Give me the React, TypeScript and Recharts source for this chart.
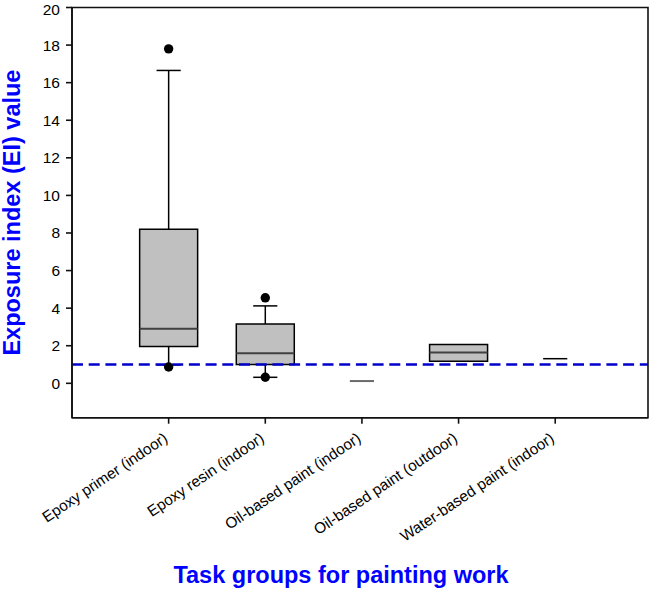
import { ComposedChart, XAxis, YAxis, Scatter, ReferenceArea, ReferenceLine } from 'recharts';

const categories = [
  'Epoxy primer (indoor)',
  'Epoxy resin (indoor)',
  'Oil-based paint (indoor)',
  'Oil-based paint (outdoor)',
  'Water-based paint (indoor)',
];
const groupPos = [1, 2, 3, 4, 5];
const lowerQuartile = [1.96, 1.0, null, 1.17, null];
const medians = [2.9, 1.6, 0.12, 1.64, null];
const upperQuartile = [8.2, 3.16, null, 2.06, null];
const lowerWhisker = [0.98, 0.32, null, null, null];
const upperWhisker = [16.65, 4.12, null, null, 1.31];
const outlierGroup = [1, 1, 2, 2];
const outlierValue = [17.8, 0.87, 4.55, 0.32];
const yTicks = [0, 2, 4, 6, 8, 10, 12, 14, 16, 18, 20];
const threshold = 1;

const outliers = outlierGroup.map((g, i) => ({ x: g, y: outlierValue[i] }));

const FONT = '"Liberation Sans", Arial, sans-serif';
const BLUE = '#0000ff';
const BOX_HALF = 0.3;
const CAP_HALF = 0.125;
const X_DOMAIN: [number, number] = [0, 5.96];
const Y_DOMAIN: [number, number] = [-1.83, 20];

const CategoryTick = ({ x, y, payload }: any) => {
  const tx = x;
  const ty = y + 15;
  return (
    <text
      x={tx}
      y={ty}
      transform={`rotate(-34, ${tx}, ${ty})`}
      textAnchor="end"
      fontSize={15.3}
      fontFamily={FONT}
      fill="#000"
    >
      {categories[payload.value - 1]}
    </text>
  );
};

const XTitle = ({ viewBox }: any) => (
  <text
    x={viewBox.x + viewBox.width / 2 - 19}
    y={583}
    textAnchor="middle"
    fontSize={23.5}
    fontWeight="bold"
    fontFamily={FONT}
    fill={BLUE}
  >
    Task groups for painting work
  </text>
);

const YTitle = ({ viewBox }: any) => {
  const cx = 20;
  const cy = viewBox.y + viewBox.height / 2;
  return (
    <text
      transform={`translate(${cx}, ${cy}) rotate(-90)`}
      textAnchor="middle"
      fontSize={23.5}
      fontWeight="bold"
      fontFamily={FONT}
      fill={BLUE}
    >
      Exposure index (EI) value
    </text>
  );
};

export default function App() {
  return (
    <div style={{ position: 'absolute', left: 0, top: 0, background: '#fff' }}>
      <ComposedChart width={654} height={592} margin={{ top: 7.5, right: 6, bottom: 0, left: 0 }}>
        <XAxis
          type="number"
          dataKey="x"
          domain={X_DOMAIN}
          ticks={groupPos}
          allowDataOverflow
          height={174.3}
          tickSize={6}
          stroke="#111"
          strokeWidth={1.6}
          tick={<CategoryTick />}
          label={<XTitle />}
        />
        <YAxis
          type="number"
          dataKey="y"
          domain={Y_DOMAIN}
          ticks={yTicks}
          allowDataOverflow
          width={72}
          tickSize={6}
          tickMargin={6}
          stroke="#111"
          strokeWidth={1.6}
          tick={{ fill: '#000', fontSize: 15.5, fontFamily: FONT }}
          label={<YTitle />}
        />
        {/* frame */}
        <ReferenceArea
          x1={X_DOMAIN[0]}
          x2={X_DOMAIN[1]}
          y1={Y_DOMAIN[0]}
          y2={Y_DOMAIN[1]}
          fill="none"
          stroke="#111"
          strokeWidth={1.6}
          ifOverflow="visible"
        />
        {/* whiskers */}
        {groupPos.map((p, i) =>
          upperWhisker[i] != null && upperQuartile[i] != null ? (
            <ReferenceLine
              key={`uw${i}`}
              segment={[{ x: p, y: upperQuartile[i] as number }, { x: p, y: upperWhisker[i] as number }]}
              stroke="#000"
              strokeWidth={1.5}
            />
          ) : null
        )}
        {groupPos.map((p, i) =>
          lowerWhisker[i] != null && lowerQuartile[i] != null ? (
            <ReferenceLine
              key={`lw${i}`}
              segment={[{ x: p, y: lowerQuartile[i] as number }, { x: p, y: lowerWhisker[i] as number }]}
              stroke="#000"
              strokeWidth={1.5}
            />
          ) : null
        )}
        {groupPos.map((p, i) =>
          upperWhisker[i] != null ? (
            <ReferenceLine
              key={`uc${i}`}
              segment={[{ x: p - CAP_HALF, y: upperWhisker[i] as number }, { x: p + CAP_HALF, y: upperWhisker[i] as number }]}
              stroke="#000"
              strokeWidth={1.5}
            />
          ) : null
        )}
        {groupPos.map((p, i) =>
          lowerWhisker[i] != null ? (
            <ReferenceLine
              key={`lc${i}`}
              segment={[{ x: p - CAP_HALF, y: lowerWhisker[i] as number }, { x: p + CAP_HALF, y: lowerWhisker[i] as number }]}
              stroke="#000"
              strokeWidth={1.5}
            />
          ) : null
        )}
        {/* boxes */}
        {groupPos.map((p, i) =>
          lowerQuartile[i] != null && upperQuartile[i] != null ? (
            <ReferenceArea
              key={`box${i}`}
              x1={p - BOX_HALF}
              x2={p + BOX_HALF}
              y1={lowerQuartile[i] as number}
              y2={upperQuartile[i] as number}
              fill="#c0c0c0"
              fillOpacity={1}
              stroke="#000"
              strokeWidth={1.5}
            />
          ) : null
        )}
        {/* medians */}
        {groupPos.map((p, i) => {
          if (medians[i] == null) return null;
          const half = lowerQuartile[i] != null ? BOX_HALF : CAP_HALF;
          return (
            <ReferenceLine
              key={`med${i}`}
              segment={[{ x: p - half, y: medians[i] as number }, { x: p + half, y: medians[i] as number }]}
              stroke={lowerQuartile[i] != null ? '#404040' : '#6a6a6a'}
              strokeWidth={2}
            />
          );
        })}
        <ReferenceLine y={threshold} stroke="#0000cc" strokeWidth={2.5} strokeDasharray="11 5.7" />
        <Scatter
          data={outliers}
          dataKey="y"
          fill="#000"
          isAnimationActive={false}
          shape={(props: any) => <circle cx={props.cx} cy={props.cy} r={4.7} fill="#000" />}
        />
      </ComposedChart>
    </div>
  );
}
